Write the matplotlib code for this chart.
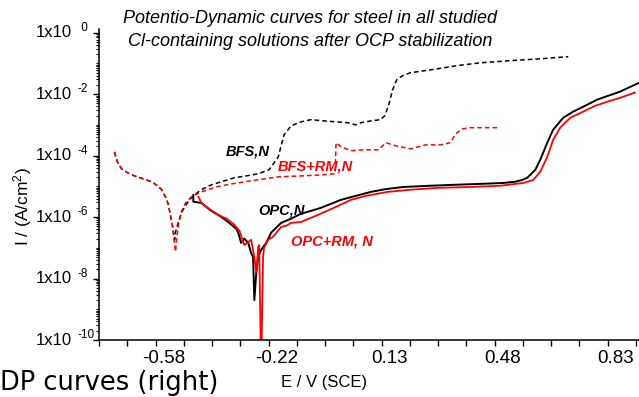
import matplotlib
matplotlib.use("Agg")
import matplotlib.pyplot as plt
import matplotlib.transforms as transforms
import numpy as np

plt.rcParams["font.family"] = ["Liberation Sans", "DejaVu Sans"]
plt.rcParams["mathtext.fontset"] = "custom"
plt.rcParams["mathtext.rm"] = "Liberation Sans"
plt.rcParams["mathtext.it"] = "Liberation Sans:italic"

# potential E (V vs SCE) and log10 of current density (A/cm2)
# cathodic branch shared by both BFS curves
cath_e = [-0.702, -0.698, -0.692, -0.680, -0.661, -0.640, -0.612, -0.587, -0.569, -0.556,
          -0.544, -0.535, -0.529, -0.523]
cath_logi = [-3.88, -4.04, -4.23, -4.43, -4.56, -4.66, -4.76, -4.85, -4.98, -5.11,
             -5.34, -5.60, -5.93, -6.25]

bfs_e = cath_e + [-0.516, -0.513, -0.504, -0.495, -0.485, -0.470, -0.455, -0.433, -0.402, -0.371,
                  -0.331, -0.294, -0.257, -0.223, -0.195, -0.177, -0.155, -0.124, -0.094, -0.053,
                  -0.016, 0.021, 0.045, 0.061, 0.092, 0.122, 0.135, 0.147, 0.159, 0.172,
                  0.190, 0.215, 0.277, 0.360, 0.431, 0.524, 0.616, 0.703]
bfs_logi = cath_logi + [-6.74, -6.48, -6.16, -5.87, -5.67, -5.44, -5.28, -5.11, -4.95, -4.85,
                        -4.72, -4.66, -4.59, -4.46, -4.04, -3.32, -3.03, -2.90, -2.83, -2.87,
                        -2.90, -2.93, -3.00, -2.93, -2.87, -2.83, -2.70, -2.35, -1.86, -1.53,
                        -1.40, -1.30, -1.21, -1.07, -0.98, -0.91, -0.85, -0.78]

bfs_rm_e = cath_e + [-0.516, -0.513, -0.510, -0.504, -0.495, -0.482, -0.464, -0.433, -0.387, -0.340,
                     -0.279, -0.195, -0.124, -0.063, -0.019, -0.016, -0.001, 0.030, 0.076, 0.116,
                     0.138, 0.169, 0.215, 0.261, 0.308, 0.338, 0.354, 0.375, 0.400, 0.431,
                     0.483]
bfs_rm_logi = cath_logi + [-6.91, -7.13, -6.74, -6.25, -5.83, -5.54, -5.34, -5.18, -5.02, -4.92,
                           -4.82, -4.69, -4.66, -4.63, -4.59, -3.58, -3.71, -3.84, -3.81, -3.81,
                           -3.58, -3.68, -3.78, -3.65, -3.65, -3.58, -3.29, -3.13, -3.09, -3.09,
                           -3.09]

opc_e = [-0.458, -0.458, -0.433, -0.405, -0.381, -0.360, -0.340, -0.325, -0.319, -0.310,
         -0.300, -0.288, -0.279, -0.273, -0.269, -0.263, -0.257, -0.248, -0.240, -0.232,
         -0.217, -0.202, -0.186, -0.155, -0.124, -0.094, -0.063, -0.032, -0.001, 0.045,
         0.092, 0.138, 0.193, 0.277, 0.348, 0.431, 0.502, 0.539, 0.561, 0.576,
         0.585, 0.601, 0.616, 0.638, 0.656, 0.687, 0.718, 0.755, 0.792, 0.863,
         0.922, 0.960]
opc_logi = [-5.28, -5.50, -5.54, -5.78, -5.93, -6.08, -6.25, -6.38, -6.51, -6.84,
            -6.70, -6.84, -7.17, -7.30, -8.70, -7.82, -7.30, -7.07, -6.95, -6.84,
            -6.51, -6.35, -6.19, -6.05, -5.89, -5.80, -5.70, -5.57, -5.44, -5.31,
            -5.18, -5.09, -5.02, -4.98, -4.95, -4.92, -4.89, -4.85, -4.79, -4.72,
            -4.63, -4.46, -4.14, -3.58, -3.16, -2.77, -2.57, -2.38, -2.18, -1.92,
            -1.63, -1.50]

opc_rm_e = [-0.442, -0.433, -0.405, -0.381, -0.355, -0.331, -0.315, -0.300, -0.279, -0.269,
            -0.263, -0.257, -0.254, -0.248, -0.242, -0.239, -0.226, -0.211, -0.186, -0.170,
            -0.155, -0.124, -0.100, -0.072, -0.023, 0.030, 0.076, 0.144, 0.215, 0.298,
            0.400, 0.493, 0.564, 0.595, 0.616, 0.638, 0.656, 0.678, 0.709, 0.749,
            0.786, 0.823, 0.863, 0.909]
opc_rm_logi = [-5.34, -5.54, -5.76, -5.93, -6.05, -6.25, -6.45, -6.91, -6.74, -7.30,
               -7.79, -6.97, -6.91, -11.0, -7.30, -7.00, -6.74, -6.64, -6.32, -6.28,
               -6.19, -6.16, -6.05, -5.93, -5.70, -5.44, -5.31, -5.18, -5.11, -5.05,
               -5.02, -4.98, -4.89, -4.79, -4.53, -4.04, -3.49, -3.09, -2.77, -2.57,
               -2.38, -2.25, -2.12, -1.95]

xtick_vals = [-0.575, -0.225, 0.125, 0.475, 0.825]
xtick_labels = ["-0.58", "-0.22", "0.13", "0.48", "0.83"]
ytick_exps = [0, -2, -4, -6, -8, -10]

fig = plt.figure(figsize=(6.39, 3.97), dpi=100)
ax = fig.add_axes([99 / 639, 57 / 397, 1 - 99 / 639, (368 - 57) / 397])

ax.plot(opc_e, 10 ** np.array(opc_logi), color="black", lw=1.4)
ax.plot(opc_rm_e, 10 ** np.array(opc_rm_logi), color="red", lw=1.3)
ax.plot(bfs_e, 10 ** np.array(bfs_logi), color="black", lw=1.1, ls=(0, (3, 2)))
ax.plot(bfs_rm_e, 10 ** np.array(bfs_rm_logi), color="red", lw=1.1, ls=(0, (3, 2)))

ax.set_yscale("log")
ax.set_ylim(1e-10, 10 ** 0.12)
ax.set_xlim(-0.745, 0.922)

for s in ["top", "right"]:
    ax.spines[s].set_visible(False)
for s in ["left", "bottom"]:
    ax.spines[s].set_linewidth(1.1)

ax.set_xticks(xtick_vals)
ax.set_xticklabels(xtick_labels, fontsize=13.5)
ax.set_xticks(np.arange(-0.75, 0.93, 0.0875), minor=True)
ax.tick_params(axis="x", which="major", length=4, width=1, pad=3)
ax.tick_params(axis="x", which="minor", length=4, width=1)
offset = transforms.ScaledTranslation(8 / 100, 0, fig.dpi_scale_trans)
for lbl in ax.get_xticklabels():
    lbl.set_transform(lbl.get_transform() + offset)

ax.set_yticks([10.0 ** e for e in ytick_exps])
ax.set_yticklabels([""] * len(ytick_exps))
ax.set_yticks([m * 10.0 ** d for d in range(-10, 0) for m in range(2, 10)] +
              [10.0 ** d for d in range(-9, 0, 2)], minor=True)
ax.set_yticklabels([], minor=True)
ax.tick_params(axis="y", which="major", length=4, width=1)
ax.tick_params(axis="y", which="minor", length=2.5, width=0.8)

trans = transforms.blended_transform_factory(fig.transFigure, ax.transData)
up = transforms.ScaledTranslation(0, 5 / 100, fig.dpi_scale_trans)
for e in ytick_exps:
    ax.text(72 / 639, 10.0 ** e, "1x10", transform=trans, ha="right", va="center",
            fontsize=12, clip_on=False)
    ax.text(78 / 639, 10.0 ** e, str(e) if e < 0 else " " + str(e),
            transform=trans + up, ha="left", va="center", fontsize=8.5, clip_on=False)

fig.text(23 / 639, 1 - 207 / 397, r"I / (A/cm$^{2}$)", rotation=90,
         ha="center", va="center", fontsize=12.5)
fig.text(324 / 639, 1 - 383 / 397, "E / V (SCE)", ha="center", va="center", fontsize=12)

fig.text(310 / 639, 1 - 30 / 397,
         "Potentio-Dynamic curves for steel in all studied\n"
         "Cl-containing solutions after OCP stabilization",
         ha="center", va="center", fontsize=13, style="italic", linespacing=1.4)

fig.text(0.0, 7 / 397, "DP curves (right)", family="DejaVu Sans", fontsize=18.5,
         ha="left", va="baseline")

lab = dict(fontsize=10.5, fontweight="bold", style="italic", ha="left", va="center")
ax.text(-0.359, 10 ** -3.88, "BFS,N", color="black", **lab)
ax.text(-0.198, 10 ** -4.36, "BFS+RM,N", color="red", **lab)
ax.text(-0.257, 10 ** -5.77, "OPC,N", color="black", **lab)
ax.text(-0.155, 10 ** -6.81, "OPC+RM, N", color="red", **lab)

fig.savefig("out.png", dpi=100)
